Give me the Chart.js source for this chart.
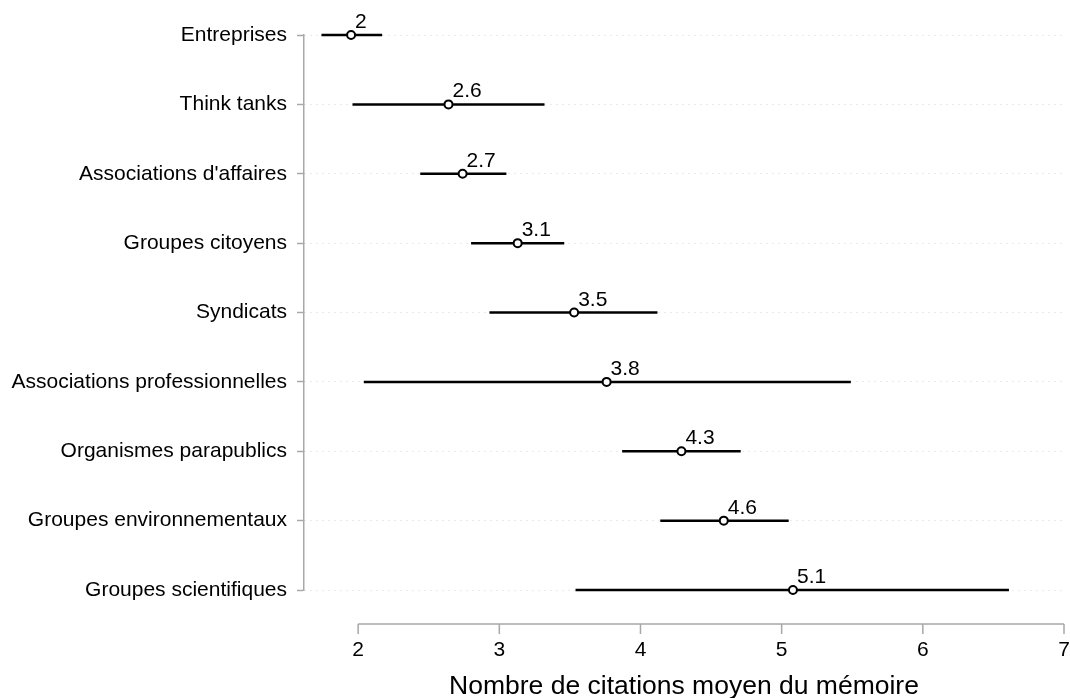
<!DOCTYPE html>
<html>
<head>
<meta charset="utf-8">
<script src="https://cdn.jsdelivr.net/npm/chart.js@4"></script>
<style>
  html, body { margin: 0; padding: 0; background: #fff; }
  #wrap { width: 1070px; height: 698px; position: relative; }
</style>
</head>
<body>
<div id="wrap"><canvas id="chart"></canvas></div>
<script>
const categories = ['Entreprises', 'Think tanks', "Associations d'affaires", 'Groupes citoyens', 'Syndicats',
  'Associations professionnelles', 'Organismes parapublics', 'Groupes environnementaux', 'Groupes scientifiques'];
const means = [1.95, 2.64, 2.74, 3.13, 3.53, 3.76, 4.29, 4.59, 5.08];
const lower = [1.74, 1.96, 2.44, 2.80, 2.93, 2.04, 3.87, 4.14, 3.54];
const upper = [2.17, 3.32, 3.05, 3.46, 4.12, 5.49, 4.71, 5.05, 6.61];
const valueLabels = ['2', '2.6', '2.7', '3.1', '3.5', '3.8', '4.3', '4.6', '5.1'];
const xTicks = [2, 3, 4, 5, 6, 7];
const xTitle = 'Nombre de citations moyen du mémoire';

const FONT = '"Liberation Sans", Arial, Helvetica, sans-serif';
const AXIS_GRAY = '#a8a8a8';

// one little line dataset per category for the confidence interval
const ciSets = categories.map((c, i) => ({
  type: 'line',
  data: [{ x: lower[i], y: c }, { x: upper[i], y: c }],
  borderColor: '#000',
  borderWidth: 2.5,
  pointRadius: 0,
  clip: false,
  order: 2
}));

const meanSet = {
  type: 'scatter',
  data: categories.map((c, i) => ({ x: means[i], y: c })),
  pointStyle: 'circle',
  pointRadius: 4,
  pointBorderWidth: 2,
  pointBorderColor: '#000',
  pointBackgroundColor: '#fff',
  clip: false,
  order: 1
};

// x axis drawn stata-style: line only from first to last tick, ticks pointing down
const xAxisLine = {
  id: 'xAxisLine',
  afterDraw(chart) {
    const { ctx, scales: { x }, chartArea } = chart;
    const y0 = chartArea.bottom + 34;
    ctx.save();
    ctx.strokeStyle = AXIS_GRAY;
    ctx.lineWidth = 1.5;
    ctx.beginPath();
    ctx.moveTo(x.getPixelForValue(xTicks[0]), y0);
    ctx.lineTo(x.getPixelForValue(xTicks[xTicks.length - 1]), y0);
    xTicks.forEach(v => {
      const px = x.getPixelForValue(v);
      ctx.moveTo(px, y0);
      ctx.lineTo(px, y0 + 10);
    });
    ctx.stroke();
    ctx.restore();
  }
};

const meanLabels = {
  id: 'meanLabels',
  afterDatasetsDraw(chart) {
    const { ctx } = chart;
    const meta = chart.getDatasetMeta(chart.data.datasets.length - 1);
    ctx.save();
    ctx.font = '21px ' + FONT;
    ctx.fillStyle = '#000';
    ctx.textAlign = 'left';
    ctx.textBaseline = 'alphabetic';
    meta.data.forEach((pt, i) => {
      ctx.fillText(valueLabels[i], pt.x + 4, pt.y - 7);
    });
    ctx.restore();
  }
};

new Chart(document.getElementById('chart'), {
  data: { datasets: [...ciSets, meanSet] },
  options: {
    responsive: true,
    maintainAspectRatio: false,
    animation: false,
    events: [],
    layout: { padding: { top: 35, right: 0, bottom: 0, left: 0 } },
    plugins: { legend: { display: false }, tooltip: { enabled: false } },
    scales: {
      x: {
        type: 'linear',
        min: 1.6165,
        max: 7,
        afterBuildTicks: s => { s.ticks = xTicks.map(v => ({ value: v })); },
        afterFit: s => { s.height = 108; s.paddingRight = 0; s.paddingLeft = 0; },
        grid: { display: false, drawTicks: false },
        border: { display: false },
        ticks: {
          padding: 48,
          color: '#000',
          font: { family: FONT, size: 21 },
          maxRotation: 0,
          callback: v => String(v)
        },
        title: {
          display: true,
          text: xTitle,
          color: '#000',
          font: { family: FONT, size: 26.5, lineHeight: 1 },
          padding: { top: 0, bottom: -2 }
        }
      },
      y: {
        type: 'category',
        labels: categories,
        offset: false,
        afterFit: s => { s.width = 304; },
        grid: {
          color: '#d4d4d4',
          lineWidth: 1,
          tickColor: AXIS_GRAY,
          tickLength: 7,
          tickWidth: 1.5,
          tickBorderDash: [0, 0]
        },
        border: { display: true, color: AXIS_GRAY, width: 1.5, dash: [1, 5] },
        ticks: {
          padding: 10,
          color: '#000',
          font: { family: FONT, size: 21 }
        }
      }
    }
  },
  plugins: [xAxisLine, meanLabels]
});
</script>
</body>
</html>
